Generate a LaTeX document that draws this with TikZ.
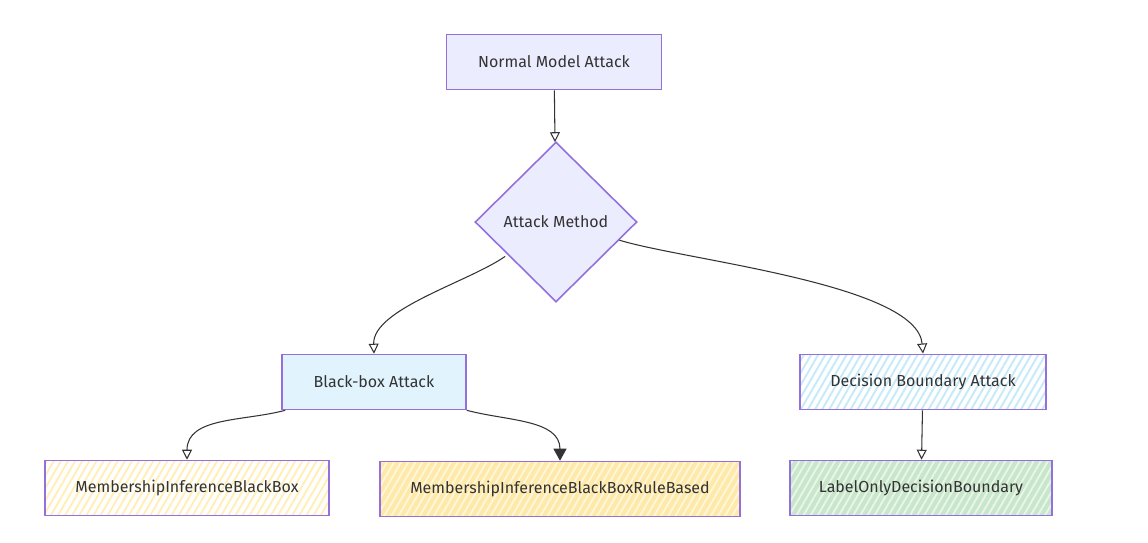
\documentclass[tikz,border=0pt]{standalone}
\usepackage{fontspec}
\setmainfont{Fira Sans}
\usepackage{tikz}
\usetikzlibrary{arrows.meta,shapes.geometric,patterns.meta}
\definecolor{NodeLine}{HTML}{9370DB}
\definecolor{NodeFill}{HTML}{ECECFF}
\definecolor{EdgeGrey}{HTML}{333333}
\definecolor{BoxBlue}{HTML}{E1F4FD}
\definecolor{HatchBlue}{HTML}{C6EAFA}
\definecolor{HatchYellow}{HTML}{FFEFB8}
\definecolor{FillYellow}{HTML}{FFE9A8}
\definecolor{FillGreen}{HTML}{C8E6C9}

\begin{document}
\begin{tikzpicture}[x=0.02cm,y=0.02cm,
    every node/.style={font=\fontsize{9.1}{11}\selectfont,text=EdgeGrey},
    box/.style={draw=NodeLine,line width=0.9pt,rectangle,minimum height=1.1cm,inner sep=0pt},
    hatched/.style={box,preaction={fill=#1},pattern={Lines[angle=60,distance=3.5pt,line width=1.1pt]}},
    edge/.style={draw=EdgeGrey,line width=0.6pt,-{Triangle[open,length=2mm,width=2mm]}},
    solidedge/.style={draw=EdgeGrey,line width=0.6pt,-{Triangle[length=2.4mm,width=2.6mm]}}]
  \useasboundingbox (0,0) rectangle (1148,-542);
  \node[box,fill=NodeFill,minimum width=4.3cm] (nma) at (554,-62) {Normal Model Attack};
  \node[draw=NodeLine,line width=0.9pt,fill=NodeFill,diamond,minimum width=3.24cm,minimum height=3.2cm,inner sep=0pt] (am) at (556,-222) {Attack Method};
  \node[box,fill=BoxBlue,minimum width=3.68cm] (bb) at (374,-382) {Black-box Attack};
  \node[hatched=white,pattern color=HatchBlue,minimum width=4.92cm] (db) at (923,-382) {Decision Boundary Attack};
  \node[hatched=white,pattern color=HatchYellow,minimum width=5.68cm] (mibb) at (187,-488) {MembershipInferenceBlackBox};
  \node[hatched=FillYellow,pattern color=HatchYellow!50,minimum width=7.2cm] (rb) at (560,-489) {MembershipInferenceBlackBoxRuleBased};
  \node[hatched=FillGreen,pattern color=white!60!FillGreen,minimum width=5.24cm] (lo) at (921,-488) {LabelOnlyDecisionBoundary};

  \draw[edge] (nma) -- (am);
  \draw[edge] ([shift={(-10,6)}]am.south west) to[out=-145,in=92,looseness=0.7] (bb.north);
  \draw[edge] (am.-16) to[out=-17,in=95,looseness=0.55] (db.north);
  \draw[edge] ([shift={(4,0)}]bb.south west) to[out=-165,in=90] (mibb.north);
  \draw[solidedge] (bb.south east) to[out=-15,in=90] (rb.north);
  \draw[edge] (db) -- (lo);
\end{tikzpicture}
\end{document}
